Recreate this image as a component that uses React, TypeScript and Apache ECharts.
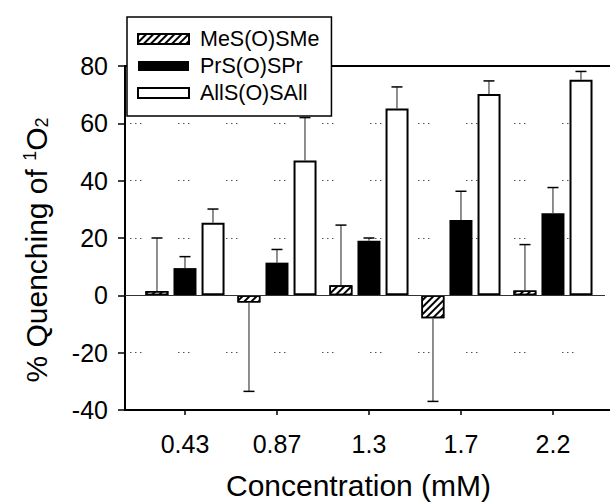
import { useEffect, useRef } from 'react';
import * as echarts from 'echarts';

const categories = ['0.43', '0.87', '1.3', '1.7', '2.2'];
const seriesNames = ['MeS(O)SMe', 'PrS(O)SPr', 'AllS(O)SAll'];
const meValues = [1.5, -2.5, 3.5, -8, 1.7];
const meErrors = [18.5, 31, 21, 29, 16];
const prValues = [9.5, 11.4, 19, 26.3, 28.6];
const prErrors = [4, 4.6, 1, 10, 9];
const allValues = [25.3, 47, 65.2, 70.2, 75.2];
const allErrors = [4.8, 15, 7.5, 4.6, 2.9];
const yMin = -40;
const yMax = 80;
const yInterval = 20;

const FONT = '"Liberation Sans", Arial, Helvetica, sans-serif';
const X_MIN = -0.652;
const X_MAX = 4.62;
const BAR_W = 23;
const OFFSETS = [-28, 0, 28];

function errorSeries(values: number[], errors: number[], offset: number) {
  return {
    type: 'custom',
    silent: true,
    z: 4,
    data: values.map((v, i) => [i, v, errors[i]]),
    encode: { x: 0, y: 1 },
    renderItem: (_params: any, api: any) => {
      const x = api.value(0);
      const v = api.value(1);
      const e = api.value(2);
      const dir = v < 0 ? -1 : 1;
      const p0 = api.coord([x, v]);
      const p1 = api.coord([x, v + dir * e]);
      const cx = p0[0] + offset;
      return {
        type: 'group',
        children: [
          {
            type: 'line',
            shape: { x1: cx, y1: p0[1], x2: cx, y2: p1[1] },
            style: { stroke: '#444', lineWidth: 1.2 },
          },
          {
            type: 'line',
            shape: { x1: cx - 5.5, y1: p1[1], x2: cx + 5.5, y2: p1[1] },
            style: { stroke: '#000', lineWidth: 1.5 },
          },
        ],
      };
    },
  };
}

export default function App() {
  const ref = useRef<HTMLDivElement>(null);
  useEffect(() => {
    if (!ref.current) return;
    const chart = echarts.init(ref.current, null, { renderer: 'svg' });
    const idx = categories.map((_, i) => i);
    const option: any = {
      animation: false,
      backgroundColor: '#fff',
      textStyle: { fontFamily: FONT },
      grid: {
        left: 125,
        right: 0,
        top: 66,
        bottom: 93,
        containLabel: false,
        outerBoundsMode: 'none',
        show: false,
        borderWidth: 0,
      },
      graphic: [
        {
          type: 'rect',
          right: 0,
          top: 68,
          z: 100,
          silent: true,
          shape: { width: 5, height: 340 },
          style: { fill: '#fff' },
        },
      ],
      legend: {
        data: seriesNames,
        orient: 'vertical',
        left: 127,
        top: 17,
        padding: [11, 12, 12, 10],
        itemWidth: 51,
        itemHeight: 10,
        itemGap: 5,
        borderColor: '#000',
        borderWidth: 1.5,
        backgroundColor: '#fff',
        icon: 'rect',
        z: 10,
        textStyle: { fontSize: 21.5, color: '#000', fontFamily: FONT, padding: [0, 0, 0, 6] },
      },
      xAxis: [
        {
          type: 'value',
          min: X_MIN,
          max: X_MAX,
          position: 'bottom',
          axisLine: { show: true, onZero: false, lineStyle: { color: '#000', width: 2 } },
          axisTick: { show: true, customValues: idx, length: 5, lineStyle: { color: '#000', width: 1.5 } },
          axisLabel: {
            customValues: idx,
            formatter: (v: number) => categories[Math.round(v)] ?? '',
            fontSize: 25,
            color: '#000',
            margin: 21,
            fontFamily: FONT,
          },
          splitLine: { show: false },
          name: 'Concentration (mM)',
          nameLocation: 'middle',
          nameGap: 60,
          nameTextStyle: { fontSize: 30, color: '#000', fontFamily: FONT, padding: [0, 18, 0, 0] },
        },
        {
          type: 'value',
          min: X_MIN,
          max: X_MAX,
          position: 'top',
          axisLine: { show: true, onZero: false, lineStyle: { color: '#000', width: 2 } },
          axisTick: { show: false },
          axisLabel: { show: false },
          splitLine: { show: false },
        },
      ],
      yAxis: {
        type: 'value',
        min: yMin,
        max: yMax,
        interval: yInterval,
        axisLine: { show: true, onZero: false, lineStyle: { color: '#000', width: 2 } },
        axisTick: { show: true, length: 7, lineStyle: { color: '#000', width: 1.5 } },
        axisLabel: { fontSize: 25, color: '#000', margin: 17, fontFamily: FONT },
        splitLine: {
          show: true,
          lineStyle: { color: '#555', width: 1, type: [1.5, 3.5, 1.5, 3.5, 1.5, 36.5], dashOffset: 43 },
        },
        name: '% Quenching of {sup|1}O{sub|2}',
        nameLocation: 'middle',
        nameRotate: 90,
        nameGap: 74,
        nameTextStyle: {
          fontSize: 30,
          color: '#000',
          fontFamily: FONT,
          padding: [0, 24, 0, 0],
          rich: {
            sup: { fontSize: 18, fontFamily: FONT, color: '#000', verticalAlign: 'top' },
            sub: { fontSize: 18, fontFamily: FONT, color: '#000', verticalAlign: 'bottom' },
          },
        },
      },
      series: [
        {
          type: 'bar',
          name: seriesNames[0],
          data: meValues.map((v, i) => [i, v]),
          barWidth: BAR_W,
          barGap: '22%',
          z: 3,
          itemStyle: {
            color: '#fff',
            borderColor: '#000',
            borderWidth: 1.5,
            decal: {
              symbol: 'rect',
              symbolSize: 1,
              dashArrayX: [1, 0],
              dashArrayY: [2, 3],
              rotation: -Math.PI / 4,
              color: '#000',
            },
          },
          markLine: {
            silent: true,
            symbol: ['none', 'none'],
            label: { show: false },
            lineStyle: { color: '#333', type: 'solid', width: 1 },
            data: [{ yAxis: 0 }],
          },
        },
        {
          type: 'bar',
          name: seriesNames[1],
          data: prValues.map((v, i) => [i, v]),
          barWidth: BAR_W,
          barGap: '22%',
          z: 3,
          itemStyle: { color: '#000', borderColor: '#000', borderWidth: 0 },
        },
        {
          type: 'bar',
          name: seriesNames[2],
          data: allValues.map((v, i) => [i, v]),
          barWidth: BAR_W,
          barGap: '22%',
          z: 3,
          itemStyle: { color: '#fff', borderColor: '#000', borderWidth: 2 },
        },
        errorSeries(meValues, meErrors, OFFSETS[0]),
        errorSeries(prValues, prErrors, OFFSETS[1]),
        errorSeries(allValues, allErrors, OFFSETS[2]),
      ],
    };
    chart.setOption(option);
    return () => chart.dispose();
  }, []);
  return (
    <div
      ref={ref}
      style={{ position: 'fixed', left: 0, top: 0, width: 610, height: 503, background: '#fff' }}
    />
  );
}
